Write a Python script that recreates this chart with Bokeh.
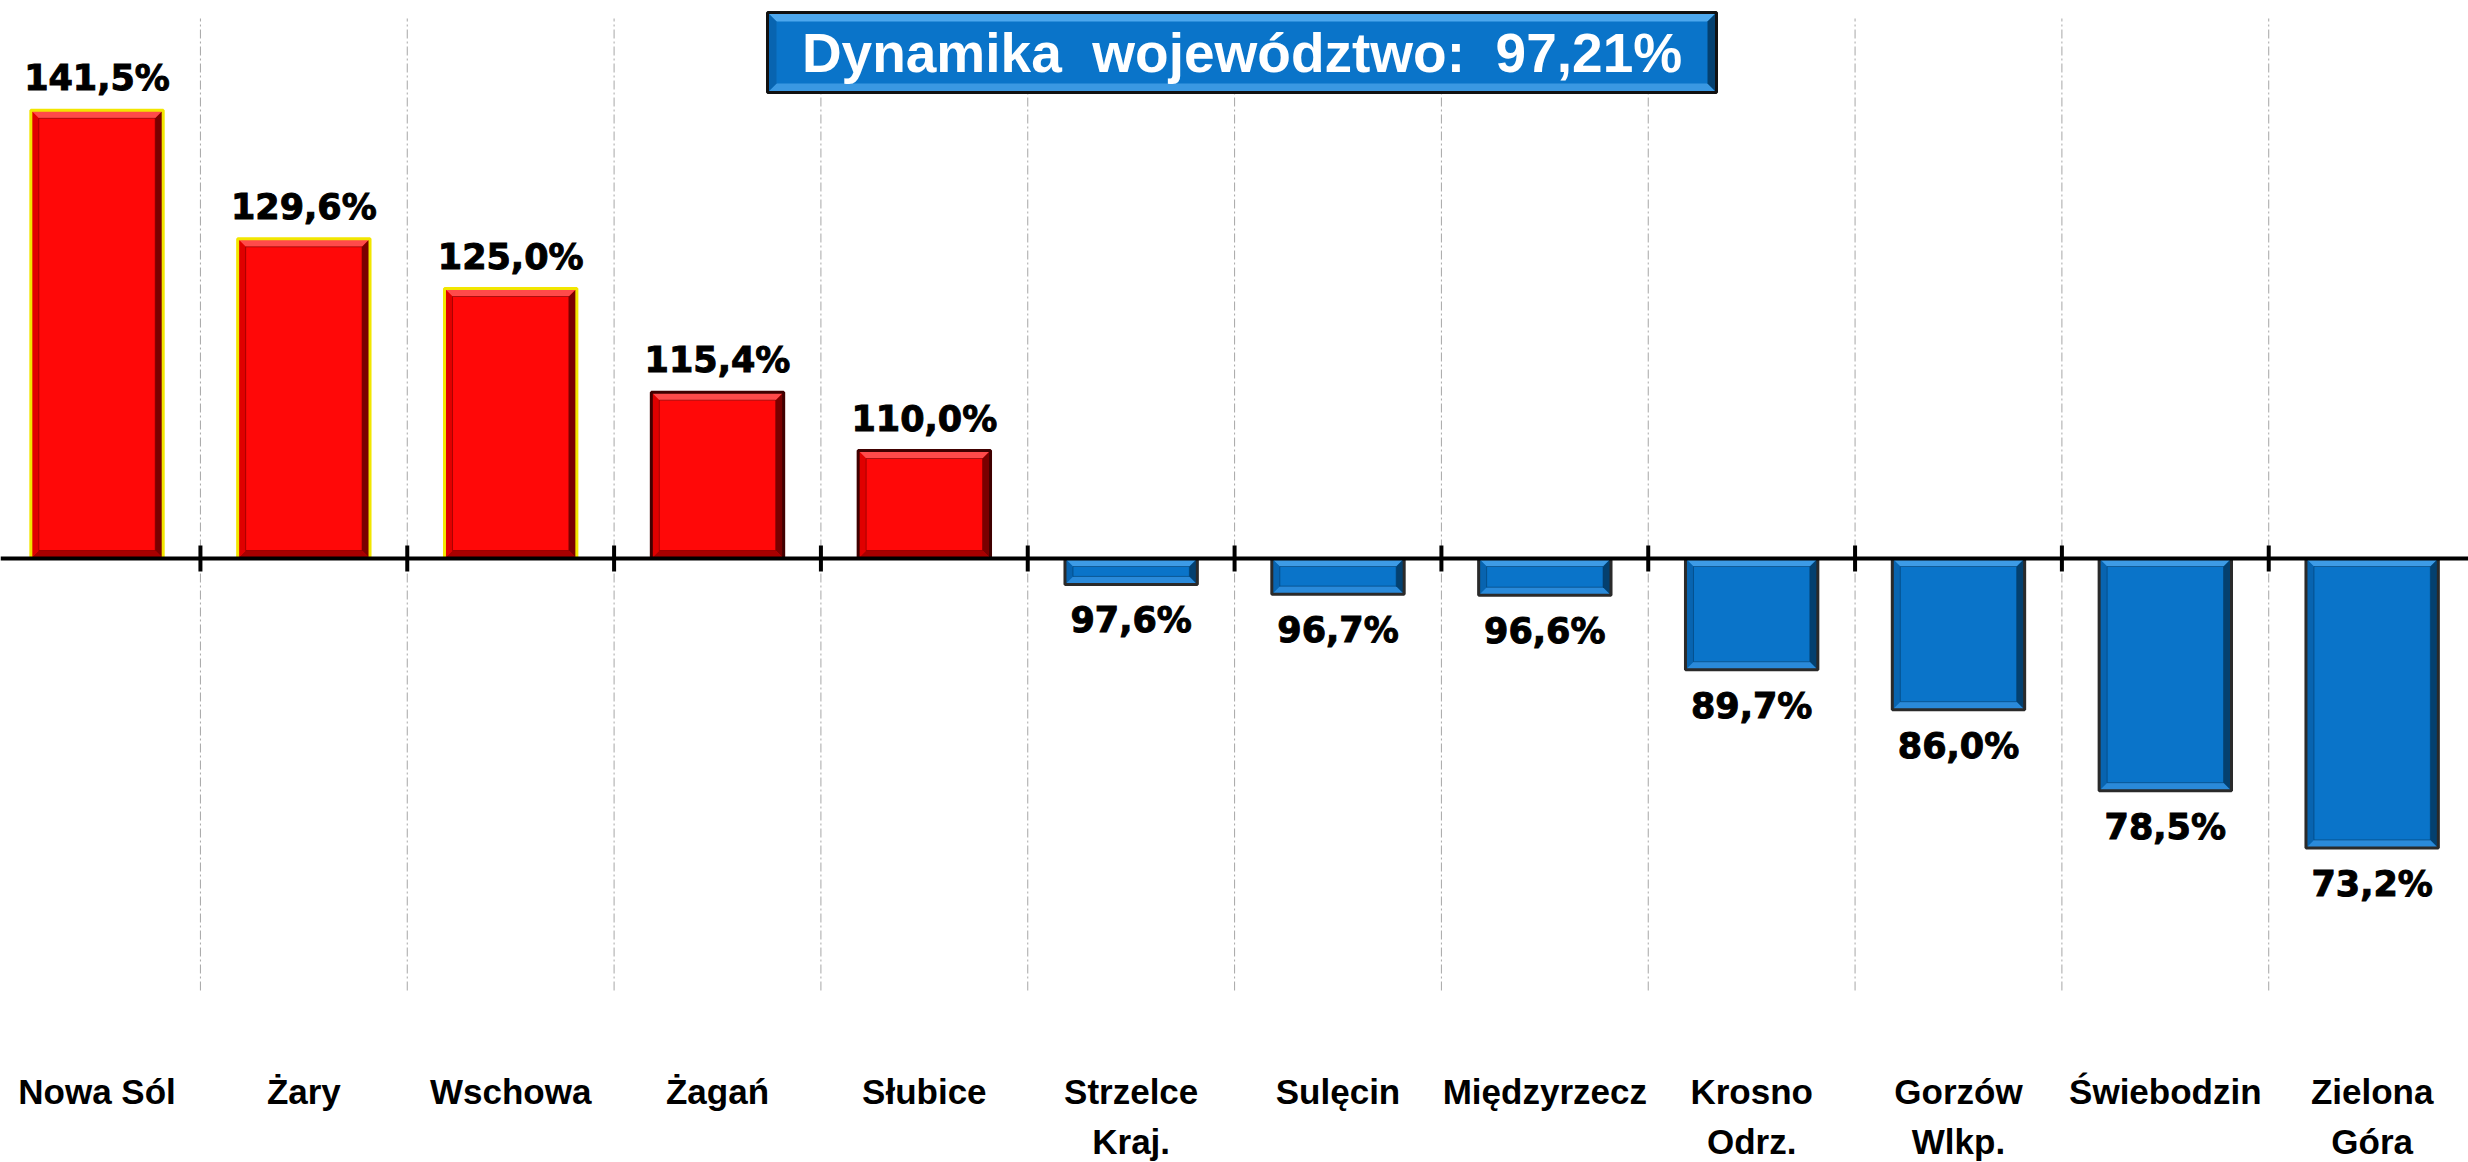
from bokeh.plotting import figure
from bokeh.models import Range1d, Span, Label
from bokeh.embed import file_html
from bokeh.resources import INLINE
from bokeh.core.properties import value as pv

# ---------------- data ----------------
categories = ["Nowa Sól", "Żary", "Wschowa", "Żagań", "Słubice", "Strzelce\nKraj.",
              "Sulęcin", "Międzyrzecz", "Krosno\nOdrz.", "Gorzów\nWlkp.", "Świebodzin", "Zielona\nGóra"]
values = [141.5, 129.6, 125.0, 115.4, 110.0, 97.6, 96.7, 96.6, 89.7, 86.0, 78.5, 73.2]
baseline = 100.0
title_text = "Dynamika\u00a0 województwo:\u00a0 97,21%"

value_labels = [f"{v:.1f}".replace(".", ",") + "%" for v in values]

# ---------------- geometry (pixel scale) ----------------
W, H = 2468, 1162
PX_X = 206.83         # px per category
PX_Y = 10.8           # px per percentage point
AXIS_Y = 558          # canvas y of the 100% line
x_start = -0.5 + 6.9 / PX_X
x_end = x_start + W / PX_X
y_end = baseline + AXIS_Y / PX_Y
y_start = y_end - H / PX_Y
grid_top, grid_bottom = 150.0, 60.0


def ypix(py):
    """canvas pixel row -> data y"""
    return baseline + (AXIS_Y - py) / PX_Y


def xpix(px):
    return x_start + px / PX_X


p = figure(width=W, height=H, output_backend="svg", toolbar_location=None,
           x_range=Range1d(x_start, x_end), y_range=Range1d(y_start, y_end),
           min_border=0, min_border_left=0, min_border_right=0,
           min_border_top=0, min_border_bottom=0)
p.axis.visible = False
p.grid.visible = False
p.outline_line_color = None
p.background_fill_color = "white"
p.border_fill_color = "white"

n = len(values)
xs = list(range(n))

# vertical dashed gridlines at category boundaries
bx_lines = [i + 0.5 for i in range(-1, n)]
p.segment(x0=bx_lines, x1=bx_lines, y0=[grid_bottom] * len(bx_lines), y1=[grid_top] * len(bx_lines),
          line_color="#A6A6A6", line_width=1, line_dash="9 3 2 3")

# bars
hw = 0.32
is_up = [v >= baseline for v in values]
fill = ["#FF0808" if u else "#0A74C9" for u in is_up]
top_c = ["#FF4A4A" if u else "#3D9BE6" for u in is_up]
left_c = ["#E00000" if u else "#0864B0" for u in is_up]
right_c = ["#7A0000" if u else "#04406F" for u in is_up]
bot_c = ["#A80000" if u else "#2A8ADA" for u in is_up]
outline = ["#F2E600", "#F2E600", "#F2E600", "#400000", "#400000"] + ["#2A2A2A"] * 7

x0 = [x - hw for x in xs]
x1 = [x + hw for x in xs]
y0 = [min(baseline, v) for v in values]
y1 = [max(baseline, v) for v in values]

p.quad(left=x0, right=x1, bottom=y0, top=y1, fill_color=fill, line_color=None)

bx = 8 / PX_X
by = 8 / PX_Y
pxs, pys, pcs = [], [], []
for i in range(n):
    a, b, c, d = x0[i], x1[i], y0[i], y1[i]
    pxs += [[a, b, b - bx, a + bx], [a, b, b - bx, a + bx], [a, a + bx, a + bx, a], [b, b - bx, b - bx, b]]
    pys += [[d, d, d - by, d - by], [c, c, c + by, c + by], [c, c + by, d - by, d], [c, c + by, d - by, d]]
    pcs += [top_c[i], bot_c[i], left_c[i], right_c[i]]
p.patches(xs=pxs, ys=pys, fill_color=pcs, line_color=None)
p.quad(left=[a + bx for a in x0], right=[b - bx for b in x1], bottom=[c + by for c in y0],
       top=[d - by for d in y1], fill_color=None, line_color=right_c, line_width=1, line_alpha=0.6)
p.quad(left=x0, right=x1, bottom=y0, top=y1, fill_color=None, line_color=outline, line_width=3)

# axis line & ticks
p.add_layout(Span(location=baseline, dimension="width", line_color="black", line_width=4))
tick = 13 / PX_Y
p.segment(x0=bx_lines, x1=bx_lines, y0=[baseline - tick] * len(bx_lines), y1=[baseline + tick] * len(bx_lines),
          line_color="black", line_width=4)

# value labels
off_up = 32 / PX_Y
off_dn = 36 / PX_Y
lab_y = [v + off_up if u else v - off_dn for v, u in zip(values, is_up)]
p.text(x=xs, y=lab_y, text=value_labels, text_align="center", text_baseline="middle",
       text_font=pv("DejaVu Sans"), text_font_style="bold", text_font_size="35px", text_color="black",
       text_outline_color="black")

# category labels (two lines drawn separately)
line1 = [c.split("\n")[0] for c in categories]
x2 = [i for i, c in enumerate(categories) if "\n" in c]
line2 = [c.split("\n")[1] for c in categories if "\n" in c]
cat_font = dict(text_align="center", text_baseline="middle", text_font=pv("Liberation Sans"),
                text_font_style="bold", text_font_size="35px", text_color="black")
p.text(x=xs, y=[ypix(1091)] * n, text=line1, **cat_font)
p.text(x=x2, y=[ypix(1141)] * len(x2), text=line2, **cat_font)

# title box
tb_l, tb_r = xpix(767), xpix(1716)
tb_t, tb_b = ypix(12), ypix(92)
p.quad(left=[tb_l], right=[tb_r], bottom=[tb_b], top=[tb_t], fill_color="#0A74C9", line_color=None)
tbx = 9 / PX_X
tby = 9 / PX_Y
p.patches(xs=[[tb_l, tb_r, tb_r - tbx, tb_l + tbx], [tb_l, tb_r, tb_r - tbx, tb_l + tbx],
              [tb_l, tb_l + tbx, tb_l + tbx, tb_l], [tb_r, tb_r - tbx, tb_r - tbx, tb_r]],
          ys=[[tb_t, tb_t, tb_t - tby, tb_t - tby], [tb_b, tb_b, tb_b + tby, tb_b + tby],
              [tb_b, tb_b + tby, tb_t - tby, tb_t], [tb_b, tb_b + tby, tb_t - tby, tb_t]],
          fill_color=["#4DA8EE", "#3A98E2", "#0864B0", "#04406F"], line_color=None)
p.quad(left=[tb_l], right=[tb_r], bottom=[tb_b], top=[tb_t], fill_color=None, line_color="#111111", line_width=3)
p.add_layout(Label(x=(tb_l + tb_r) / 2, y=(tb_t + tb_b) / 2, text=title_text, text_align="center",
                   text_baseline="middle", text_font="Liberation Sans", text_font_style="bold",
                   text_font_size="55px", text_color="white"))

open("out.html", "w").write(file_html(p, INLINE))
